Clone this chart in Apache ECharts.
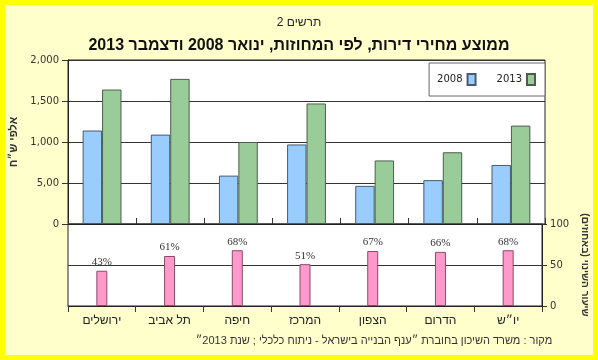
<!DOCTYPE html>
<html lang="he">
<head>
<meta charset="UTF-8" />
<title>ממוצע מחירי דירות</title>
<script src="https://cdn.jsdelivr.net/npm/echarts@6/dist/echarts.min.js"></script>
<style>
    * { margin: 0; padding: 0; }
    body { overflow: hidden; background: #ffff00; }
    #chart {
        width: 598px;
        height: 360px;
        background: #ffffcc;
        box-shadow: inset 0 0 0 5px #ffff00;
    }
</style>
</head>
<body>
<div id="chart"></div>
<script type="text/javascript">
    // districts, left to right as drawn
    const categories = ['ירושלים', 'תל אביב', 'חיפה', 'המרכז', 'הצפון', 'הדרום', 'יו״ש'];
    // average price, thousands NIS
    const prices2008 = [1140, 1090, 590, 970, 465, 535, 720];
    const prices2013 = [1640, 1770, 1000, 1470, 775, 875, 1200];
    // rate of change, percent
    const changePct = [43, 61, 68, 51, 67, 66, 68];
    // left axis labels as printed (incl. the "5,00" typo)
    const priceTicks = ['0', '5,00', '1,000', '1,500', '2,000'];
    const pctTicks = ['0', '50', '100'];

    const sans = 'Liberation Sans';
    const numFont = 'DejaVu Sans';

    var myChart = echarts.init(document.getElementById('chart'));

    var option = {
        animation: false,
        title: [
            {
                text: 'תרשים 2',
                left: 'center',
                top: 12,
                textStyle: { fontFamily: sans, fontSize: 12, fontWeight: 'normal', color: '#222' }
            },
            {
                text: 'ממוצע מחירי דירות, לפי המחוזות, ינואר 2008 ודצמבר 2013',
                left: 'center',
                top: 33,
                textStyle: { fontFamily: sans, fontSize: 16, fontWeight: 'bold', color: '#111' }
            }
        ],
        legend: {
            data: ['2008', '2013'],
            right: 53,
            top: 63,
            align: 'right',
            orient: 'horizontal',
            icon: 'rect',
            backgroundColor: '#fff',
            borderColor: '#666',
            borderWidth: 1,
            padding: [10, 9, 10, 8],
            itemWidth: 8,
            itemHeight: 11,
            itemGap: 20,
            textStyle: { fontFamily: numFont, fontSize: 10, color: '#222' }
        },
        grid: [
            { left: 68, right: 53, top: 60, height: 164, show: true, backgroundColor: '#fff', borderColor: '#222', borderWidth: 1 },
            { left: 68, right: 53, top: 224, height: 82, show: true, backgroundColor: '#fff', borderColor: '#222', borderWidth: 1 }
        ],
        xAxis: [
            {
                type: 'category',
                gridIndex: 0,
                data: categories,
                axisLine: { lineStyle: { color: '#222' } },
                axisTick: { show: true, inside: true, length: 6, lineStyle: { color: '#333' } },
                axisLabel: { show: false }
            },
            {
                type: 'category',
                gridIndex: 1,
                data: categories,
                axisLine: { lineStyle: { color: '#222' } },
                axisTick: { show: true, length: 6, lineStyle: { color: '#333' } },
                axisLabel: { margin: 9, fontFamily: sans, fontSize: 12, color: '#222' }
            }
        ],
        yAxis: [
            {
                type: 'value',
                gridIndex: 0,
                min: 0,
                max: 2000,
                interval: 500,
                name: 'אלפי ש״ח',
                nameLocation: 'middle',
                nameRotate: 90,
                nameGap: 45,
                nameTextStyle: { fontFamily: sans, fontSize: 11, fontWeight: 'bold', color: '#333' },
                axisLine: { show: true, lineStyle: { color: '#222' } },
                axisTick: { show: true, length: 6, lineStyle: { color: '#333' } },
                axisLabel: {
                    margin: 9,
                    fontFamily: numFont,
                    fontSize: 10,
                    color: '#333',
                    formatter: function (v) { return priceTicks[v / 500]; }
                },
                splitLine: { lineStyle: { color: '#333', width: 1 } }
            },
            {
                type: 'value',
                gridIndex: 1,
                position: 'right',
                min: 0,
                max: 100,
                interval: 50,
                name: 'שיעור השינוי (באחוזים)\u200F',
                nameLocation: 'middle',
                nameRotate: -90,
                nameGap: 34,
                nameTextStyle: { fontFamily: sans, fontSize: 10, fontWeight: 'bold', color: '#333' },
                axisLine: { show: true, lineStyle: { color: '#222' } },
                axisTick: { show: true, length: 5, lineStyle: { color: '#333' } },
                axisLabel: {
                    margin: 8,
                    fontFamily: numFont,
                    fontSize: 10,
                    color: '#333',
                    formatter: function (v) { return pctTicks[v / 50]; }
                },
                splitLine: { lineStyle: { color: '#333', width: 1 } }
            }
        ],
        series: [
            {
                name: '2008',
                type: 'bar',
                xAxisIndex: 0,
                yAxisIndex: 0,
                data: prices2008,
                barGap: '0%',
                barCategoryGap: '43%',
                itemStyle: { color: '#99ccff', borderColor: '#4a5a6a', borderWidth: 1 }
            },
            {
                name: '2013',
                type: 'bar',
                xAxisIndex: 0,
                yAxisIndex: 0,
                data: prices2013,
                itemStyle: { color: '#99cc99', borderColor: '#4d5d4d', borderWidth: 1 }
            },
            {
                name: 'שיעור השינוי',
                type: 'bar',
                xAxisIndex: 1,
                yAxisIndex: 1,
                data: changePct,
                barWidth: 11,
                itemStyle: { color: '#ff99cc', borderColor: '#8a4a66', borderWidth: 1 },
                label: {
                    show: true,
                    position: 'top',
                    distance: 3,
                    formatter: '{c}%',
                    fontFamily: 'Liberation Serif',
                    fontSize: 11,
                    color: '#333'
                }
            }
        ],
        graphic: [
            {
                type: 'text',
                style: {
                    text: 'מקור : משרד השיכון בחוברת ״ענף הבנייה בישראל - ניתוח כלכלי ; שנת 2013״',
                    x: 374,
                    y: 341,
                    align: 'center',
                    verticalAlign: 'middle',
                    font: '11px "Liberation Sans"',
                    fill: '#333'
                }
            }
        ]
    };

    myChart.setOption(option);
</script>
</body>
</html>
